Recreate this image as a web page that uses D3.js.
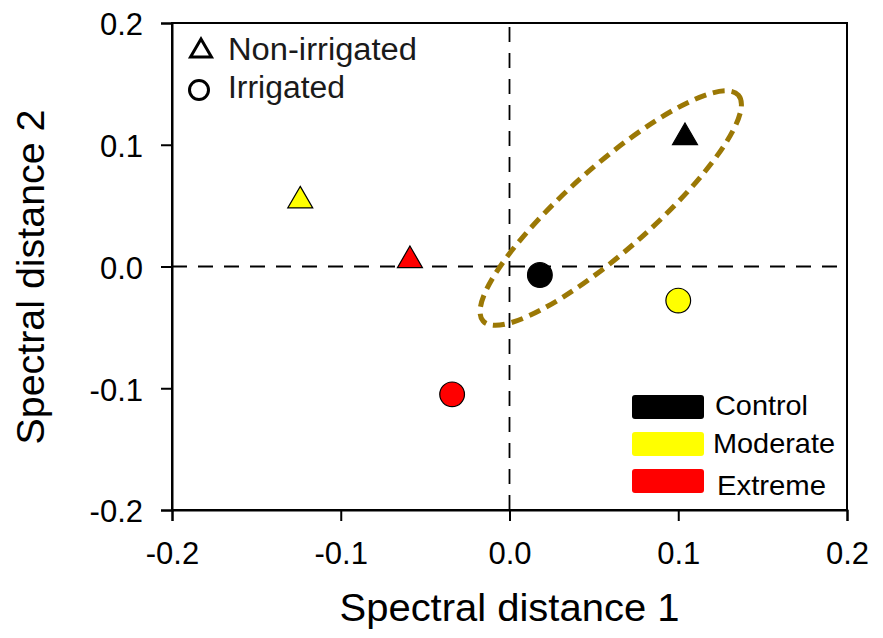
<!DOCTYPE html>
<html>
<head>
<meta charset="utf-8">
<script src="https://cdn.jsdelivr.net/npm/d3@7"></script>
<style>
  body { margin: 0; background: #fff; }
  svg { font-family: Arial, "Liberation Sans", sans-serif; }
</style>
</head>
<body>
<svg width="883" height="638"></svg>
<script>
// Data
var treatments = ["Control", "Moderate", "Extreme"],
    colors = ["#000000", "#ffff00", "#ff0000"],
    groups = ["Non-irrigated", "Irrigated"],
    tickValues = [-0.2, -0.1, 0.0, 0.1, 0.2];

var nonIrrigatedX = [0.104, -0.124, -0.059],
    nonIrrigatedY = [0.106, 0.054, 0.005],
    irrigatedX = [0.018, 0.100, -0.034],
    irrigatedY = [-0.007, -0.028, -0.105];

// ellipse annotation: centre, half axes (x units), angle in degrees
var ellipseCentre = [0.060, 0.048],
    ellipseRadii = [0.101, 0.025],
    ellipseAngle = -41.5;

var svg = d3.select("svg"),
    margin = {left: 172, right: 36, top: 23, bottom: 128},
    width = 883 - margin.left - margin.right,
    height = 638 - margin.top - margin.bottom;

var x = d3.scaleLinear().domain([-0.2, 0.2]).range([margin.left, margin.left + width]),
    y = d3.scaleLinear().domain([-0.2, 0.2]).range([margin.top + height, margin.top]);

var fmt = function(d) { return d.toFixed(1); };

// zero lines
svg.append("line")
    .attr("x1", x(-0.2)).attr("x2", x(0.2))
    .attr("y1", y(0)).attr("y2", y(0))
    .attr("stroke", "#000").attr("stroke-width", 1.8)
    .attr("stroke-dasharray", "15,11");
svg.append("line")
    .attr("x1", x(0)).attr("x2", x(0))
    .attr("y1", y(-0.2)).attr("y2", y(0.2))
    .attr("stroke", "#000").attr("stroke-width", 1.8)
    .attr("stroke-dasharray", "15,11");

// frame
svg.append("rect")
    .attr("x", x(-0.2)).attr("y", y(0.2))
    .attr("width", x(0.2) - x(-0.2)).attr("height", y(-0.2) - y(0.2))
    .attr("fill", "none").attr("stroke", "#000").attr("stroke-width", 2);

// axes
var xAxis = svg.append("g")
    .attr("transform", "translate(0," + y(-0.2) + ")")
    .call(d3.axisBottom(x).tickValues(tickValues).tickFormat(fmt).tickSize(11).tickPadding(21));
var yAxis = svg.append("g")
    .attr("transform", "translate(" + x(-0.2) + ",0)")
    .call(d3.axisLeft(y).tickValues(tickValues).tickFormat(fmt).tickSize(11).tickPadding(18));

[xAxis, yAxis].forEach(function(a) {
  a.select(".domain").attr("stroke-width", 2);
  a.selectAll(".tick line").attr("stroke-width", 2);
  a.selectAll(".tick text").attr("font-size", 31).attr("fill", "#000")
      .attr("font-family", "Arial, 'Liberation Sans', sans-serif");
});
yAxis.selectAll(".tick text").attr("dy", "0.38em");

// axis titles
svg.append("text")
    .attr("x", x(0)).attr("y", 621)
    .attr("text-anchor", "middle").attr("font-size", 38)
    .attr("textLength", 340).attr("lengthAdjust", "spacingAndGlyphs")
    .text("Spectral distance 1");
svg.append("text")
    .attr("transform", "translate(44,277) rotate(-90)")
    .attr("text-anchor", "middle").attr("font-size", 38)
    .attr("textLength", 335).attr("lengthAdjust", "spacingAndGlyphs")
    .text("Spectral distance 2");

// ellipse
var pxPerUnit = x(1) - x(0);
svg.append("ellipse")
    .attr("cx", 0).attr("cy", 0)
    .attr("rx", ellipseRadii[0] * pxPerUnit)
    .attr("ry", ellipseRadii[1] * pxPerUnit)
    .attr("transform", "translate(" + x(ellipseCentre[0]) + "," + y(ellipseCentre[1]) + ") rotate(" + ellipseAngle + ")")
    .attr("fill", "none").attr("stroke", "#9b7805").attr("stroke-width", 5)
    .attr("stroke-dasharray", "12,7");

// points
var tri = d3.symbol().type(d3.symbolTriangle).size(270),
    circ = d3.symbol().type(d3.symbolCircle).size(480);

svg.selectAll(".tri")
    .data(treatments)
    .join("path")
    .attr("class", "tri")
    .attr("d", tri)
    .attr("transform", function(d, i) { return "translate(" + x(nonIrrigatedX[i]) + "," + y(nonIrrigatedY[i]) + ")"; })
    .attr("fill", function(d, i) { return colors[i]; })
    .attr("stroke", "#000").attr("stroke-width", 1.2);

svg.selectAll(".circ")
    .data(treatments)
    .join("path")
    .attr("class", "circ")
    .attr("d", circ)
    .attr("transform", function(d, i) { return "translate(" + x(irrigatedX[i]) + "," + y(irrigatedY[i]) + ")"; })
    .attr("fill", function(d, i) { return colors[i]; })
    .attr("stroke", "#000").attr("stroke-width", 1.2);

// legend: shapes
svg.append("path")
    .attr("d", d3.symbol().type(d3.symbolTriangle).size(190))
    .attr("transform", "translate(201,51)")
    .attr("fill", "none").attr("stroke", "#000").attr("stroke-width", 3);
svg.append("circle")
    .attr("cx", 199).attr("cy", 90).attr("r", 9.5)
    .attr("fill", "none").attr("stroke", "#000").attr("stroke-width", 3);
var groupLen = [189, 117];
svg.selectAll(".grp")
    .data(groups)
    .join("text")
    .attr("class", "grp")
    .attr("x", 228).attr("y", function(d, i) { return 60 + i * 38; })
    .attr("font-size", 31).attr("fill", "#1a1a1a")
    .attr("textLength", function(d, i) { return groupLen[i]; })
    .attr("lengthAdjust", "spacingAndGlyphs")
    .text(function(d) { return d; });

// legend: treatments
var lt = svg.append("g").attr("transform", "translate(632,395)");
lt.selectAll("rect")
    .data(treatments)
    .join("rect")
    .attr("x", 0).attr("y", function(d, i) { return [0, 37, 74][i]; })
    .attr("width", 72).attr("height", 24).attr("rx", 3)
    .attr("fill", function(d, i) { return colors[i]; });
lt.selectAll("text")
    .data(treatments)
    .join("text")
    .attr("x", function(d, i) { return [83, 81, 85][i]; })
    .attr("y", function(d, i) { return [20, 58, 100][i]; })
    .attr("font-size", 28).attr("fill", "#000")
    .attr("textLength", function(d, i) { return [93, 122, 109][i]; })
    .attr("lengthAdjust", "spacingAndGlyphs")
    .text(function(d) { return d; });
</script>
</body>
</html>
